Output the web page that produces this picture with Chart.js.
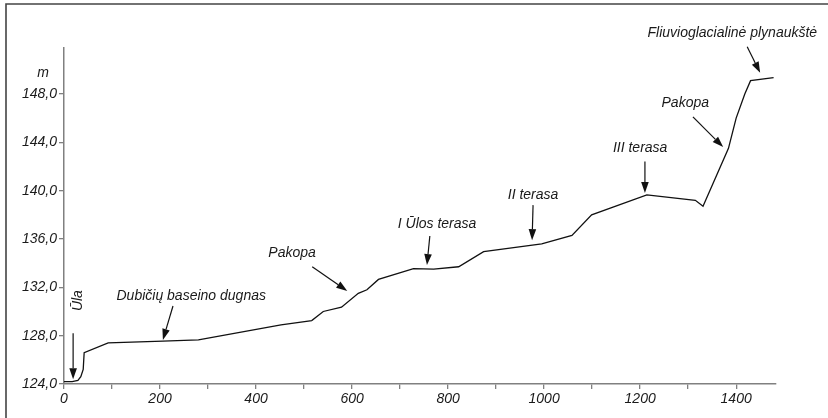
<!DOCTYPE html>
<html>
<head>
<meta charset="utf-8">
<script src="https://cdn.jsdelivr.net/npm/chart.js@4/dist/chart.umd.min.js"></script>
<style>
html,body{margin:0;padding:0;background:#fff;}
#wrap{position:relative;width:828px;height:418px;}
</style>
</head>
<body>
<div id="wrap"><canvas id="c" width="828" height="418"></canvas></div>
<script>
// Profile distance (m)
const distances = [0, 17, 29, 35, 40, 42, 92, 206, 280, 452, 516, 540, 578, 613, 631, 655, 728, 770, 822, 874, 995, 1058, 1099, 1214, 1315, 1331, 1384, 1400, 1418, 1430, 1478];
// Elevation (m)
const elevations = [124.2, 124.2, 124.3, 124.6, 125.2, 126.6, 127.4, 127.55, 127.65, 128.9, 129.25, 130.0, 130.35, 131.5, 131.8, 132.65, 133.55, 133.5, 133.7, 134.95, 135.6, 136.3, 138.0, 139.65, 139.2, 138.7, 143.5, 146.0, 148.0, 149.1, 149.35];
const xTickValues = [0, 100, 200, 300, 400, 500, 600, 700, 800, 900, 1000, 1100, 1200, 1300, 1400];
const yTickValues = [124, 128, 132, 136, 140, 144, 148];
const axisUnit = 'm';

// Annotation labels (text) with arrows, in data coordinates
const annotationTexts = ['Ūla', 'Dubičių baseino dugnas', 'Pakopa', 'I Ūlos terasa', 'II terasa', 'III terasa', 'Pakopa', 'Fliuvioglacialinė plynaukštė'];
const annotationTextPos = [[29, 130.9], [265, 131.3], [475, 134.85], [777, 137.2], [977, 139.65], [1200, 143.55], [1294, 147.2], [1392, 153.05]];
const annotationRotated = [true, false, false, false, false, false, false, false];
const arrowFrom = [[19, 128.2], [227, 130.45], [517, 133.7], [762, 136.25], [977, 138.8], [1210, 142.4], [1310, 146.1], [1423, 151.9]];
const arrowTo = [[19, 124.4], [206, 127.65], [590, 131.7], [756, 133.85], [975, 135.9], [1210, 139.8], [1373, 143.6], [1450, 149.75]];

const FONT = 'italic 14px "Liberation Sans", Arial, sans-serif';
const TEXT_COLOR = '#1a1a1a';
const AXIS_COLOR = '#808080';

const points = distances.map((d, i) => ({x: d, y: elevations[i]}));

const framePlugin = {
  id: 'frame',
  beforeDraw(chart) {
    const ctx = chart.ctx;
    ctx.save();
    ctx.fillStyle = '#fff';
    ctx.fillRect(0, 0, chart.width, chart.height);
    ctx.strokeStyle = '#444';
    ctx.lineWidth = 1.6;
    ctx.beginPath();
    ctx.moveTo(6, chart.height);
    ctx.lineTo(6, 4);
    ctx.lineTo(chart.width, 4);
    ctx.stroke();
    ctx.restore();
  }
};

function drawArrow(ctx, x1, y1, x2, y2) {
  const ang = Math.atan2(y2 - y1, x2 - x1);
  const headLen = 11, headW = 3.8;
  const bx = x2 - headLen * Math.cos(ang), by = y2 - headLen * Math.sin(ang);
  ctx.beginPath();
  ctx.moveTo(x1, y1);
  ctx.lineTo(bx, by);
  ctx.stroke();
  ctx.beginPath();
  ctx.moveTo(x2, y2);
  ctx.lineTo(bx + headW * Math.sin(ang), by - headW * Math.cos(ang));
  ctx.lineTo(bx - headW * Math.sin(ang), by + headW * Math.cos(ang));
  ctx.closePath();
  ctx.fill();
}

const annotationPlugin = {
  id: 'annot',
  afterDatasetsDraw(chart) {
    const ctx = chart.ctx;
    const xs = chart.scales.x, ys = chart.scales.y;
    ctx.save();
    ctx.font = FONT;
    ctx.fillStyle = TEXT_COLOR;
    ctx.strokeStyle = '#111';
    ctx.lineWidth = 1.2;
    ctx.textAlign = 'center';
    ctx.textBaseline = 'middle';
    annotationTexts.forEach((t, i) => {
      const px = xs.getPixelForValue(annotationTextPos[i][0]);
      const py = ys.getPixelForValue(annotationTextPos[i][1]);
      if (annotationRotated[i]) {
        ctx.save();
        ctx.translate(px, py);
        ctx.rotate(-Math.PI / 2);
        ctx.fillText(t, 0, 0);
        ctx.restore();
      } else {
        ctx.fillText(t, px, py);
      }
      ctx.fillStyle = '#111';
      drawArrow(ctx,
        xs.getPixelForValue(arrowFrom[i][0]), ys.getPixelForValue(arrowFrom[i][1]),
        xs.getPixelForValue(arrowTo[i][0]), ys.getPixelForValue(arrowTo[i][1]));
      ctx.fillStyle = TEXT_COLOR;
    });
    // unit labels
    ctx.textAlign = 'center';
    ctx.fillText(axisUnit, xs.left - 21, ys.top + 25);
    ctx.fillText(axisUnit, xs.right - 9, xs.bottom + 15);
    ctx.restore();
  }
};

new Chart(document.getElementById('c'), {
  type: 'scatter',
  data: {
    datasets: [{
      data: points,
      showLine: true,
      borderColor: '#111',
      borderWidth: 1.3,
      pointRadius: 0,
      tension: 0,
      fill: false
    }]
  },
  options: {
    responsive: false,
    animation: false,
    devicePixelRatio: 1,
    layout: {padding: {left: 0, right: 52, top: 48, bottom: 0}},
    plugins: {legend: {display: false}, tooltip: {enabled: false}},
    scales: {
      x: {
        type: 'linear',
        min: 0,
        max: 1483,
        afterBuildTicks(scale) { scale.ticks = xTickValues.map(v => ({value: v})); },
        afterFit(scale) { scale.height = 34; },
        border: {display: true, color: AXIS_COLOR, width: 1.5},
        grid: {display: true, drawOnChartArea: false, drawTicks: true, tickLength: 5, color: AXIS_COLOR, lineWidth: 1.3},
        ticks: {
          autoSkip: false,
          maxRotation: 0,
          padding: 2,
          color: TEXT_COLOR,
          font: {family: '"Liberation Sans", Arial, sans-serif', size: 14, style: 'italic'},
          callback: (v) => (v % 200 === 0 ? String(v) : '')
        }
      },
      y: {
        type: 'linear',
        min: 124,
        max: 151.8,
        afterBuildTicks(scale) { scale.ticks = yTickValues.map(v => ({value: v})); },
        afterFit(scale) { scale.width = 64; },
        border: {display: true, color: AXIS_COLOR, width: 1.5},
        grid: {display: true, drawOnChartArea: false, drawTicks: true, tickLength: 5, color: AXIS_COLOR, lineWidth: 1.3},
        ticks: {
          autoSkip: false,
          padding: 2,
          color: TEXT_COLOR,
          font: {family: '"Liberation Sans", Arial, sans-serif', size: 14, style: 'italic'},
          callback: (v) => v.toFixed(1).replace('.', ',')
        }
      }
    }
  },
  plugins: [framePlugin, annotationPlugin]
});
</script>
</body>
</html>
